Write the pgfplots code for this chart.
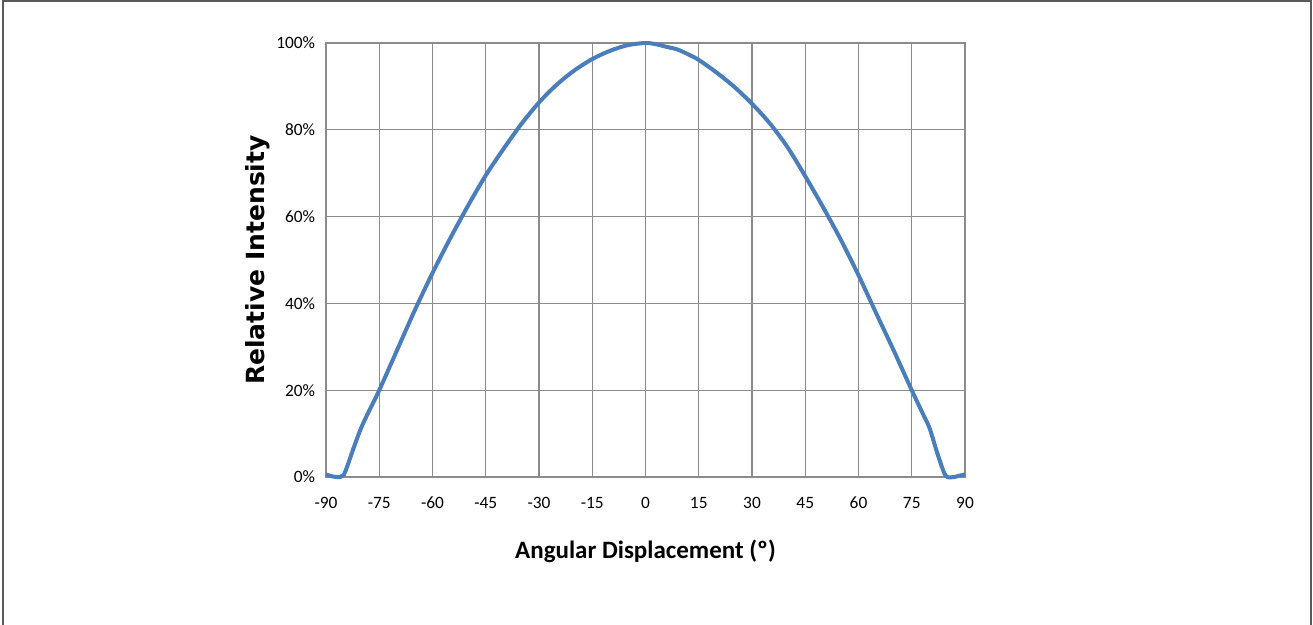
\documentclass[border=0pt]{standalone}
\usepackage{fontspec}
\setmainfont{Carlito}
\newfontfamily\ylabfont{DejaVu Sans}
\usepackage{pgfplots}
\pgfplotsset{compat=1.18}
\definecolor{curveblue}{RGB}{74,126,187}
\definecolor{gridgray}{RGB}{140,140,140}
\definecolor{framegray}{RGB}{90,90,90}
\begin{document}
\begin{tikzpicture}[x=0.6pt,y=0.6pt]
\useasboundingbox (-326,-148) rectangle (987,477);
\draw[framegray, line width=1.2pt] (-323,-150) -- (-323,476) -- (985,476) -- (985,-150);
\begin{axis}[
  at={(0,0)}, anchor=south west,
  scale only axis,
  width=383.4pt, height=260.4pt,
  xmin=-90, xmax=90, ymin=0, ymax=100,
  xtick={-90,-75,...,90},
  ytick={0,20,...,100},
  yticklabel={\pgfmathprintnumber{\tick}\%},
  /pgf/number format/assume math mode=true,
  tick label style={font=\fontsize{10.4pt}{12pt}\selectfont},
  xticklabel style={yshift=-8.5pt},
  yticklabel style={xshift=-3pt},
  major tick length=0pt,
  grid=major,
  major grid style={gridgray, line width=0.75pt},
  axis line style={gridgray, line width=0.75pt},
  xlabel={Angular Displacement (º)},
  ylabel={Relative Intensity},
  xlabel style={font=\fontsize{15pt}{17pt}\selectfont\bfseries, at={(axis description cs:0.5,-0.1705)}, anchor=center},
  ylabel style={font=\fontsize{15pt}{17pt}\selectfont\ylabfont\bfseries, at={(axis description cs:-0.1064,0.5)}, anchor=center},
  clip=false,
]
\addplot[curveblue, line width=2.4pt, smooth, tension=0.5] coordinates {
(-90,0.6) (-88,0.1) (-86,0) (-85,0.5) (-84,2.5) (-82,7.2) (-80,11.5) (-78,15)
(-75,20) (-70,29.2) (-65,38.4) (-60,47) (-55,55) (-50,62.5) (-45,69.5) (-40,75.6)
(-35,81.3) (-30,86.3) (-25,90.4) (-20,93.7) (-15,96.3) (-10,98.2) (-5,99.5) (0,100)
(3,99.7) (6,99.1) (9,98.5) (12,97.4) (15,96.1) (20,93.2) (25,89.9) (30,86.0)
(35,81.5) (40,76.0) (45,69.3) (50,62.2) (55,54.7) (60,46.5) (65,37.7) (70,29)
(75,20) (78,14.8) (80,11.3) (82,6) (84,1.2) (85,0) (87,0) (88,0.2) (90,0.6)
};
\end{axis}
\end{tikzpicture}
\end{document}
